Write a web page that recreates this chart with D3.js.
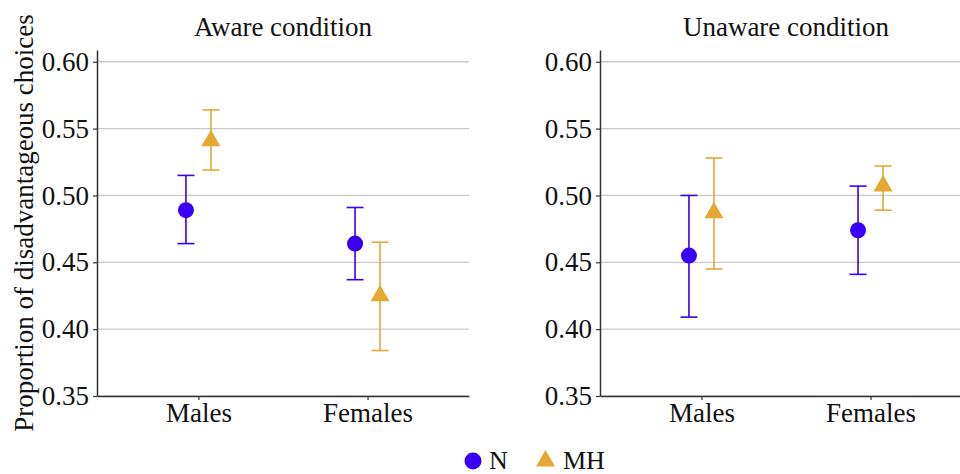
<!DOCTYPE html>
<html>
<head>
<meta charset="utf-8">
<script src="https://cdn.jsdelivr.net/npm/d3@7"></script>
<style>
  body { margin: 0; background: #fff; }
  svg, svg text { font-family: "Liberation Serif", "Times New Roman", serif; }
  svg { display: block; }
</style>
</head>
<body>
<svg width="960" height="474"></svg>
<script>
// data
const conditions = ["Aware condition", "Unaware condition"];
const genders = ["Males", "Females"];
const groups = ["N", "MH"];
const yTicks = [0.35, 0.40, 0.45, 0.50, 0.55, 0.60];

// [condition][gender]
const meanN  = [[0.489, 0.464], [0.455, 0.474]];
const lowN   = [[0.464, 0.437], [0.409, 0.441]];
const highN  = [[0.515, 0.491], [0.500, 0.507]];
const meanMH = [[0.541, 0.425], [0.487, 0.507]];
const lowMH  = [[0.519, 0.384], [0.445, 0.489]];
const highMH = [[0.564, 0.465], [0.528, 0.522]];

const colors = { N: "#3a00f5", MH: "#e6a835" };

const svg = d3.select("svg");
const plotTop = 50, plotBottom = 396;
const panels = [{ x0: 97, x1: 469 }, { x0: 600, x1: 972 }];
const serif = "'Liberation Serif', 'Times New Roman', serif";

const y = d3.scaleLinear().domain([0.35, 0.6088]).range([plotBottom, plotTop]);
const dodge = d3.scalePoint().domain(groups).range([-12.5, 12.5]);

const tri = r => `M0,${-r} L${r * 0.866},${r * 0.5} L${-r * 0.866},${r * 0.5} Z`;

conditions.forEach((cond, ci) => {
    const p = panels[ci];
    const x = d3.scalePoint().domain(genders).range([p.x0, p.x1]).padding(0.6);
    const g = svg.append("g");

    // gridlines
    g.selectAll("line.grid")
        .data(yTicks)
        .enter().append("line")
        .attr("x1", p.x0).attr("x2", p.x1)
        .attr("y1", d => y(d)).attr("y2", d => y(d))
        .attr("stroke", "#c9c9c9")
        .attr("stroke-width", 1.3);

    // axes
    const yAxis = g.append("g")
        .attr("transform", `translate(${p.x0},0)`)
        .call(d3.axisLeft(y).tickValues(yTicks).tickFormat(d3.format(".2f"))
            .tickSize(4).tickSizeOuter(0).tickPadding(4));
    const xAxis = g.append("g")
        .attr("transform", `translate(0,${plotBottom})`)
        .call(d3.axisBottom(x).tickSize(4).tickSizeOuter(0).tickPadding(3));

    [yAxis, xAxis].forEach(a => {
        a.attr("font-family", serif).attr("font-size", 27);
        a.select(".domain").attr("stroke", "#333").attr("stroke-width", 1.5);
        a.selectAll(".tick line").attr("stroke", "#333").attr("stroke-width", 1.2);
        a.selectAll("text").attr("fill", "#111");
    });

    // panel title
    g.append("text")
        .attr("x", (x("Males") + x("Females")) / 2)
        .attr("y", 36)
        .attr("text-anchor", "middle")
        .attr("fill", "#111")
        .attr("font-family", serif)
        .attr("font-size", 27)
        .text(cond);

    // error bars and points
    const series = [
        { key: "N", mean: meanN[ci], low: lowN[ci], high: highN[ci] },
        { key: "MH", mean: meanMH[ci], low: lowMH[ci], high: highMH[ci] }
    ];
    series.forEach(s => {
        genders.forEach((gd, gi) => {
            const cx = x(gd) + dodge(s.key);
            const col = colors[s.key];
            const eb = g.append("g").attr("stroke", col).attr("stroke-width", 1.6);
            eb.append("line")
                .attr("x1", cx).attr("x2", cx)
                .attr("y1", y(s.low[gi])).attr("y2", y(s.high[gi]));
            [s.low[gi], s.high[gi]].forEach(v => {
                eb.append("line")
                    .attr("x1", cx - 8.5).attr("x2", cx + 8.5)
                    .attr("y1", y(v)).attr("y2", y(v));
            });
            if (s.key === "N") {
                g.append("circle")
                    .attr("cx", cx).attr("cy", y(s.mean[gi]))
                    .attr("r", 8)
                    .attr("fill", col);
            } else {
                g.append("path")
                    .attr("d", tri(11))
                    .attr("transform", `translate(${cx},${y(s.mean[gi])})`)
                    .attr("fill", col);
            }
        });
    });
});

// y axis title
svg.append("text")
    .attr("transform", "translate(33,223) rotate(-90)")
    .attr("text-anchor", "middle")
    .attr("fill", "#111")
    .attr("font-family", serif)
    .attr("font-size", 27)
    .text("Proportion of disadvantageous choices");

// legend
const legend = svg.append("g")
    .attr("font-family", serif)
    .attr("font-size", 26)
    .attr("fill", "#111");
legend.append("circle")
    .attr("cx", 473).attr("cy", 461).attr("r", 8.5)
    .attr("fill", colors.N);
legend.append("text")
    .attr("x", 489).attr("y", 469)
    .text("N");
legend.append("path")
    .attr("d", tri(11))
    .attr("transform", "translate(545.5,461)")
    .attr("fill", colors.MH);
legend.append("text")
    .attr("x", 563).attr("y", 469)
    .text("MH");
</script>
</body>
</html>
